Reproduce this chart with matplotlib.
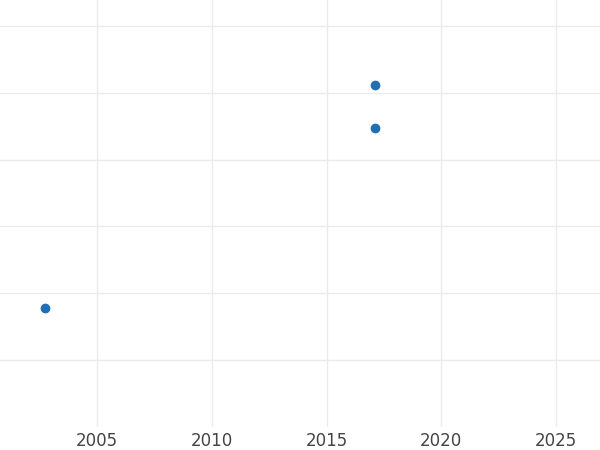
import matplotlib.pyplot as plt

years = [2002.72, 2017.11, 2017.11]
values = [0.78, 3.47, 4.11]
xticks = [2005, 2010, 2015, 2020, 2025]
yticks = [0, 1, 2, 3, 4, 5]

fig = plt.figure(figsize=(6, 4.5), dpi=100)
ax = fig.add_axes([0, 0.052, 1, 0.948])
ax.scatter(years, values, s=36, color='#1f6fb2', zorder=3)
ax.set_xlim(2000.77, 2026.92)
ax.set_ylim(-1.0, 5.39)
ax.set_xticks(xticks)
ax.set_yticks(yticks)
ax.set_yticklabels([])
ax.grid(True, color='#ebebeb', linewidth=1)
ax.tick_params(length=0, labelsize=12, labelcolor='#444444', pad=4)
for s in ax.spines.values():
    s.set_visible(False)
fig.savefig('out.png')
